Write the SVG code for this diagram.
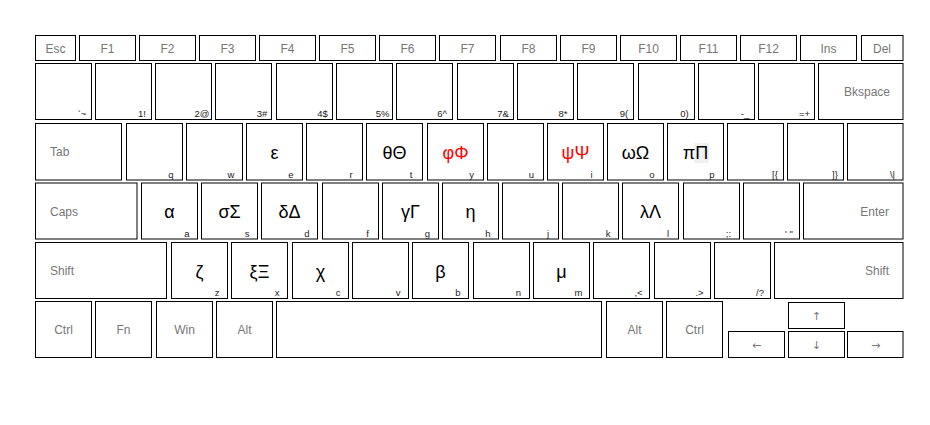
<svg xmlns="http://www.w3.org/2000/svg" width="930" height="425" viewBox="0 0 930 425">
<style>
.k{fill:#fff;stroke:#000;stroke-width:1}
.m{font-family:"Liberation Sans",Arial,sans-serif;font-size:12px;fill:#777}
.c{text-anchor:middle}
.e{text-anchor:end}
.s{font-family:"Liberation Sans",Arial,sans-serif;font-size:9.5px;fill:#222;text-anchor:middle}
.g{font-family:"Liberation Sans",Arial,sans-serif;font-size:18px;fill:#000;text-anchor:middle}
.r{fill:#f00}
.a{font-family:"DejaVu Sans","Liberation Sans",sans-serif;font-size:11px;fill:#777;text-anchor:middle}
</style>
<rect width="930" height="425" fill="#fff"/>
<!-- Function row -->
<g id="key-esc"><rect class="k" x="35.5" y="35.5" width="40" height="25"/><text class="m c" x="55.5" y="52.5">Esc</text></g>
<g id="key-f1"><rect class="k" x="79.5" y="35.5" width="56" height="25"/><text class="m c" x="107.5" y="52.5">F1</text></g>
<g id="key-f2"><rect class="k" x="139.5" y="35.5" width="56" height="25"/><text class="m c" x="167.5" y="52.5">F2</text></g>
<g id="key-f3"><rect class="k" x="199.5" y="35.5" width="56" height="25"/><text class="m c" x="227.5" y="52.5">F3</text></g>
<g id="key-f4"><rect class="k" x="259.5" y="35.5" width="56" height="25"/><text class="m c" x="287.5" y="52.5">F4</text></g>
<g id="key-f5"><rect class="k" x="319.5" y="35.5" width="56" height="25"/><text class="m c" x="347.5" y="52.5">F5</text></g>
<g id="key-f6"><rect class="k" x="379.5" y="35.5" width="56" height="25"/><text class="m c" x="407.5" y="52.5">F6</text></g>
<g id="key-f7"><rect class="k" x="439.5" y="35.5" width="56" height="25"/><text class="m c" x="467.5" y="52.5">F7</text></g>
<g id="key-f8"><rect class="k" x="500.5" y="35.5" width="56" height="25"/><text class="m c" x="528.5" y="52.5">F8</text></g>
<g id="key-f9"><rect class="k" x="560.5" y="35.5" width="56" height="25"/><text class="m c" x="588.5" y="52.5">F9</text></g>
<g id="key-f10"><rect class="k" x="620.5" y="35.5" width="56" height="25"/><text class="m c" x="648.5" y="52.5">F10</text></g>
<g id="key-f11"><rect class="k" x="680.5" y="35.5" width="56" height="25"/><text class="m c" x="708.5" y="52.5">F11</text></g>
<g id="key-f12"><rect class="k" x="740.5" y="35.5" width="56" height="25"/><text class="m c" x="768.5" y="52.5">F12</text></g>
<g id="key-ins"><rect class="k" x="800.5" y="35.5" width="56" height="25"/><text class="m c" x="828.5" y="52.5">Ins</text></g>
<g id="key-del"><rect class="k" x="861.5" y="35.5" width="41.5" height="25"/><text class="m c" x="882" y="52.5">Del</text></g>
<!-- Number row -->
<g id="key-grave"><rect class="k" x="35.5" y="63.5" width="56" height="56"/><text class="s" x="82" y="117">`~</text></g>
<g id="key-1"><rect class="k" x="95.5" y="63.5" width="56" height="56"/><text class="s" x="142" y="117">1!</text></g>
<g id="key-2"><rect class="k" x="155.5" y="63.5" width="56" height="56"/><text class="s" x="202" y="117">2@</text></g>
<g id="key-3"><rect class="k" x="215.5" y="63.5" width="56" height="56"/><text class="s" x="262" y="117">3#</text></g>
<g id="key-4"><rect class="k" x="276.5" y="63.5" width="56" height="56"/><text class="s" x="322.5" y="117">4$</text></g>
<g id="key-5"><rect class="k" x="336.5" y="63.5" width="56" height="56"/><text class="s" x="382.5" y="117">5%</text></g>
<g id="key-6"><rect class="k" x="396.5" y="63.5" width="56" height="56"/><text class="s" x="442" y="117">6^</text></g>
<g id="key-7"><rect class="k" x="457.5" y="63.5" width="56" height="56"/><text class="s" x="503" y="117">7&amp;</text></g>
<g id="key-8"><rect class="k" x="517.5" y="63.5" width="56" height="56"/><text class="s" x="563" y="117">8*</text></g>
<g id="key-9"><rect class="k" x="577.5" y="63.5" width="56" height="56"/><text class="s" x="624" y="117">9(</text></g>
<g id="key-0"><rect class="k" x="638.5" y="63.5" width="56" height="56"/><text class="s" x="684.5" y="117">0)</text></g>
<g id="key-minus"><rect class="k" x="698.5" y="63.5" width="56" height="56"/><text class="s" x="745" y="117">-_</text></g>
<g id="key-equal"><rect class="k" x="758.5" y="63.5" width="56" height="56"/><text class="s" x="804.5" y="117">=+</text></g>
<g id="key-bkspace"><rect class="k" x="818.5" y="63.5" width="84.5" height="56"/><text class="m e" x="890" y="96">Bkspace</text></g>
<!-- Tab row -->
<g id="key-tab"><rect class="k" x="35.5" y="123.5" width="86" height="56.5"/><text class="m" x="50" y="156">Tab</text></g>
<g id="key-q"><rect class="k" x="126.5" y="123.5" width="56" height="56.5"/><text class="s" x="171" y="177.5">q</text></g>
<g id="key-w"><rect class="k" x="186.5" y="123.5" width="56" height="56.5"/><text class="s" x="231" y="177.5">w</text></g>
<g id="key-e"><rect class="k" x="246.5" y="123.5" width="56" height="56.5"/><text class="g" x="274.5" y="158.5">ε</text><text class="s" x="291" y="177.5">e</text></g>
<g id="key-r"><rect class="k" x="306.5" y="123.5" width="56" height="56.5"/><text class="s" x="351" y="177.5">r</text></g>
<g id="key-t"><rect class="k" x="366.5" y="123.5" width="56" height="56.5"/><text class="g" x="394.5" y="158.5">θΘ</text><text class="s" x="411" y="177.5">t</text></g>
<g id="key-y"><rect class="k" x="427.5" y="123.5" width="56" height="56.5"/><text class="g r" x="455.5" y="158.5">φΦ</text><text class="s" x="471.5" y="177.5">y</text></g>
<g id="key-u"><rect class="k" x="487.5" y="123.5" width="56" height="56.5"/><text class="s" x="531.5" y="177.5">u</text></g>
<g id="key-i"><rect class="k" x="547.5" y="123.5" width="56" height="56.5"/><text class="g r" x="575.5" y="158.5">ψΨ</text><text class="s" x="591.5" y="177.5">i</text></g>
<g id="key-o"><rect class="k" x="607.5" y="123.5" width="56" height="56.5"/><text class="g" x="635.5" y="158.5">ωΩ</text><text class="s" x="652" y="177.5">o</text></g>
<g id="key-p"><rect class="k" x="667.5" y="123.5" width="56" height="56.5"/><rect x="694" y="143" width="15" height="20" fill="#f0f0f0"/><text class="g" x="695.5" y="158.5">πΠ</text><text class="s" x="712" y="177.5">p</text></g>
<g id="key-lbracket"><rect class="k" x="727.5" y="123.5" width="56" height="56.5"/><text class="s" x="775" y="177.5">[{</text></g>
<g id="key-rbracket"><rect class="k" x="787.5" y="123.5" width="56" height="56.5"/><text class="s" x="835" y="177.5">]}</text></g>
<g id="key-backslash"><rect class="k" x="847.5" y="123.5" width="55.5" height="56.5"/><text class="s" x="892.5" y="177.5">\|</text></g>
<!-- Caps row -->
<g id="key-caps"><rect class="k" x="35.5" y="183" width="101.5" height="56"/><text class="m" x="50" y="215.5">Caps</text></g>
<g id="key-a"><rect class="k" x="141.5" y="183" width="56" height="56"/><text class="g" x="169.5" y="218">α</text><text class="s" x="187" y="236.5">a</text></g>
<g id="key-s"><rect class="k" x="201.5" y="183" width="56" height="56"/><text class="g" x="229.5" y="218">σΣ</text><text class="s" x="247" y="236.5">s</text></g>
<g id="key-d"><rect class="k" x="261.5" y="183" width="56" height="56"/><text class="g" x="289.5" y="218">δΔ</text><text class="s" x="307" y="236.5">d</text></g>
<g id="key-f"><rect class="k" x="322.5" y="183" width="56" height="56"/><text class="s" x="367.5" y="236.5">f</text></g>
<g id="key-g"><rect class="k" x="382.5" y="183" width="56" height="56"/><text class="g" x="410.5" y="218">γΓ</text><text class="s" x="427.5" y="236.5">g</text></g>
<g id="key-h"><rect class="k" x="442.5" y="183" width="56" height="56"/><text class="g" x="470.5" y="218">η</text><text class="s" x="488" y="236.5">h</text></g>
<g id="key-j"><rect class="k" x="502.5" y="183" width="56" height="56"/><text class="s" x="548" y="236.5">j</text></g>
<g id="key-k"><rect class="k" x="562.5" y="183" width="56" height="56"/><text class="s" x="608" y="236.5">k</text></g>
<g id="key-l"><rect class="k" x="622.5" y="183" width="56" height="56"/><text class="g" x="650.5" y="218">λΛ</text><text class="s" x="668" y="236.5">l</text></g>
<g id="key-semicolon"><rect class="k" x="683.5" y="183" width="56" height="56"/><text class="s" x="728.5" y="236.5">;:</text></g>
<g id="key-quote"><rect class="k" x="743.5" y="183" width="56" height="56"/><text class="s" x="789" y="236.5">' "</text></g>
<g id="key-enter"><rect class="k" x="803.5" y="183" width="99.5" height="56"/><text class="m e" x="889" y="215.5">Enter</text></g>
<!-- Shift row -->
<g id="key-lshift"><rect class="k" x="35.5" y="242.5" width="131" height="56"/><text class="m" x="50" y="275">Shift</text></g>
<g id="key-z"><rect class="k" x="171.5" y="242.5" width="56" height="56"/><text class="g" x="199.5" y="277.5">ζ</text><text class="s" x="217" y="296">z</text></g>
<g id="key-x"><rect class="k" x="231.5" y="242.5" width="56" height="56"/><text class="g" x="259.5" y="277.5">ξΞ</text><text class="s" x="277" y="296">x</text></g>
<g id="key-c"><rect class="k" x="292.5" y="242.5" width="56" height="56"/><text class="g" x="320.5" y="277.5">χ</text><text class="s" x="338" y="296">c</text></g>
<g id="key-v"><rect class="k" x="352.5" y="242.5" width="56" height="56"/><text class="s" x="398" y="296">v</text></g>
<g id="key-b"><rect class="k" x="412.5" y="242.5" width="56" height="56"/><text class="g" x="440.5" y="277.5">β</text><text class="s" x="458" y="296">b</text></g>
<g id="key-n"><rect class="k" x="473.5" y="242.5" width="56" height="56"/><text class="s" x="518.5" y="296">n</text></g>
<g id="key-m"><rect class="k" x="533.5" y="242.5" width="56" height="56"/><text class="g" x="561.5" y="277.5">μ</text><text class="s" x="578.5" y="296">m</text></g>
<g id="key-comma"><rect class="k" x="593.5" y="242.5" width="56" height="56"/><text class="s" x="638.5" y="296">,&lt;</text></g>
<g id="key-period"><rect class="k" x="654.5" y="242.5" width="56" height="56"/><text class="s" x="699.5" y="296">.&gt;</text></g>
<g id="key-slash"><rect class="k" x="714.5" y="242.5" width="56" height="56"/><text class="s" x="760" y="296">/?</text></g>
<g id="key-rshift"><rect class="k" x="774.5" y="242.5" width="128.5" height="56"/><text class="m e" x="889" y="275">Shift</text></g>
<!-- Bottom row -->
<g id="key-lctrl"><rect class="k" x="35.5" y="301.5" width="56" height="56"/><text class="m c" x="63.5" y="334">Ctrl</text></g>
<g id="key-fn"><rect class="k" x="95.5" y="301.5" width="56" height="56"/><text class="m c" x="123.5" y="334">Fn</text></g>
<g id="key-win"><rect class="k" x="156.5" y="301.5" width="56" height="56"/><text class="m c" x="184.5" y="334">Win</text></g>
<g id="key-lalt"><rect class="k" x="216.5" y="301.5" width="56" height="56"/><text class="m c" x="244.5" y="334">Alt</text></g>
<g id="key-space"><rect class="k" x="276.5" y="301.5" width="325" height="56"/></g>
<g id="key-ralt"><rect class="k" x="606.5" y="301.5" width="56" height="56"/><text class="m c" x="634.5" y="334">Alt</text></g>
<g id="key-rctrl"><rect class="k" x="666.5" y="301.5" width="56" height="56"/><text class="m c" x="694.5" y="334">Ctrl</text></g>
<g id="key-left"><rect class="k" x="728.5" y="331.5" width="56" height="26"/><text class="a" x="756.5" y="349">←</text></g>
<g id="key-up"><rect class="k" x="788.5" y="302.5" width="56" height="26"/><text class="a" x="816.5" y="320">↑</text></g>
<g id="key-down"><rect class="k" x="788.5" y="331.5" width="56" height="26"/><text class="a" x="816.5" y="349">↓</text></g>
<g id="key-right"><rect class="k" x="847.5" y="331.5" width="55.5" height="26"/><text class="a" x="875.5" y="349">→</text></g>
</svg>
